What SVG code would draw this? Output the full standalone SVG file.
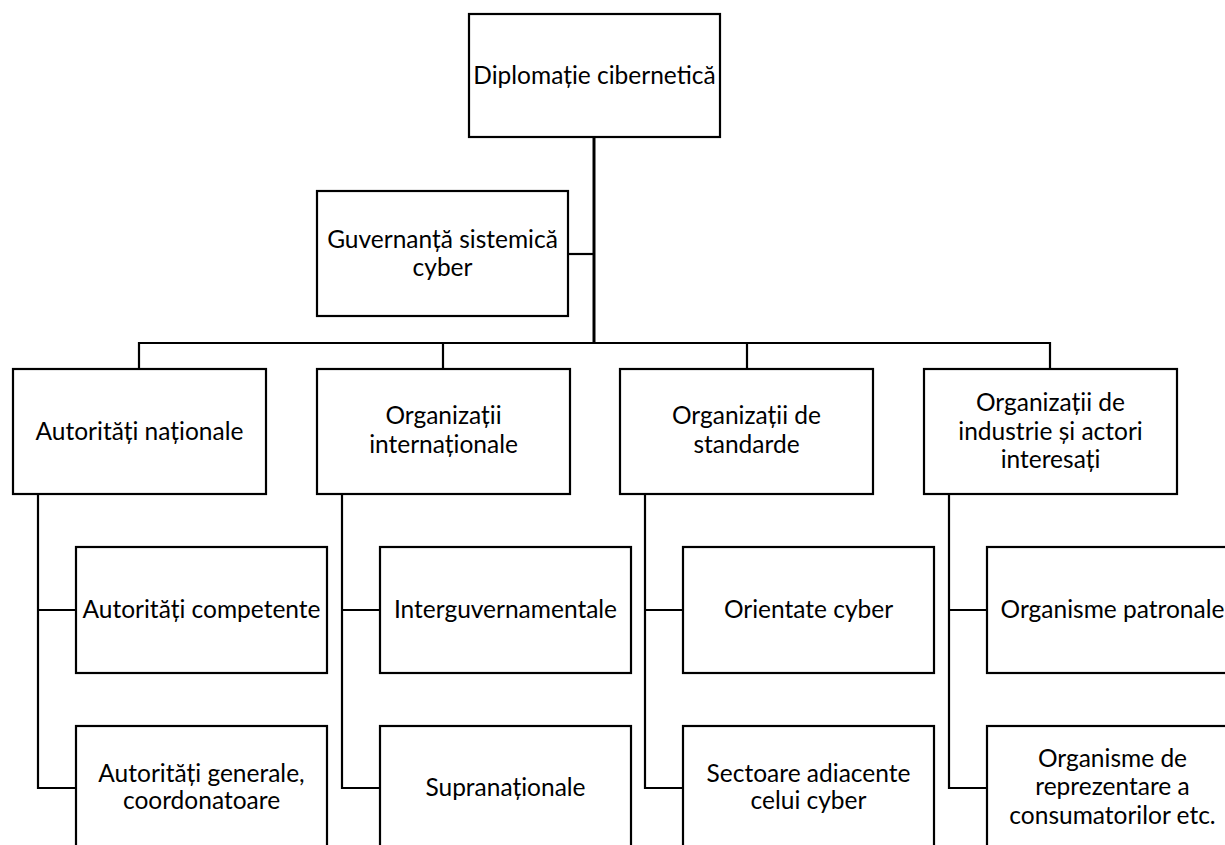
<svg xmlns="http://www.w3.org/2000/svg" width="1225" height="845" viewBox="0 0 1225 845">
<style>
  .box{fill:#fff;stroke:#000;stroke-width:2.2}
  .t{font-family:Lato,"Liberation Sans",sans-serif;font-size:24.5px;fill:#000;text-anchor:middle}
  .c{fill:none;stroke:#000;stroke-width:2.2}
  .trunk{fill:none;stroke:#000;stroke-width:3}
</style>
<rect width="1225" height="845" fill="#fff"/>
<g id="connectors">
  <path class="trunk" d="M594,137 V343"/>
  <path class="c" d="M568,254 H594"/>
  <path class="c" d="M139,343 H1050 M139,342 V369 M443,343 V369 M747,343 V369 M1050,342 V369"/>
  <path class="c" d="M38,494 V788 H76 M38,610 H76"/>
  <path class="c" d="M342,494 V788 H380 M342,610 H380"/>
  <path class="c" d="M645,494 V788 H683 M645,610 H683"/>
  <path class="c" d="M949,494 V788 H987 M949,610 H987"/>
</g>
<g id="n-diplomatie"><rect class="box" x="469" y="14" width="251" height="123"/><text class="t" x="594.5" y="84">Diplomație cibernetică</text></g>
<g id="n-guvernanta"><rect class="box" x="317" y="191" width="251" height="125"/><text class="t" x="442.5" y="248">Guvernanță sistemică</text><text class="t" x="442.5" y="276">cyber</text></g>
<g id="n-autoritati"><rect class="box" x="13" y="369" width="253" height="125"/><text class="t" x="139.5" y="440">Autorități naționale</text></g>
<g id="n-orgint"><rect class="box" x="317" y="369" width="253" height="125"/><text class="t" x="443.5" y="424">Organizații</text><text class="t" x="443.5" y="453">internaționale</text></g>
<g id="n-orgstd"><rect class="box" x="620" y="369" width="253" height="125"/><text class="t" x="746.5" y="424">Organizații de</text><text class="t" x="746.5" y="453">standarde</text></g>
<g id="n-orgind"><rect class="box" x="924" y="369" width="253" height="125"/><text class="t" x="1050.5" y="411">Organizații de</text><text class="t" x="1050.5" y="440">industrie și actori</text><text class="t" x="1050.5" y="468">interesați</text></g>
<g id="n-competente"><rect class="box" x="76" y="547" width="251" height="126"/><text class="t" x="201.5" y="618">Autorități competente</text></g>
<g id="n-generale"><rect class="box" x="76" y="726" width="251" height="126"/><text class="t" x="201.5" y="782">Autorități generale,</text><text class="t" x="201.5" y="809">coordonatoare</text></g>
<g id="n-interguv"><rect class="box" x="380" y="547" width="251" height="126"/><text class="t" x="505.5" y="618">Interguvernamentale</text></g>
<g id="n-supranat"><rect class="box" x="380" y="726" width="251" height="126"/><text class="t" x="505.5" y="796">Supranaționale</text></g>
<g id="n-orientate"><rect class="box" x="683" y="547" width="251" height="126"/><text class="t" x="808.5" y="618">Orientate cyber</text></g>
<g id="n-sectoare"><rect class="box" x="683" y="726" width="251" height="126"/><text class="t" x="808.5" y="782">Sectoare adiacente</text><text class="t" x="808.5" y="809">celui cyber</text></g>
<g id="n-patronale"><rect class="box" x="987" y="547" width="251" height="126"/><text class="t" x="1112.5" y="618">Organisme patronale</text></g>
<g id="n-consumatori"><rect class="box" x="987" y="726" width="251" height="126"/><text class="t" x="1112.5" y="767">Organisme de</text><text class="t" x="1112.5" y="795">reprezentare a</text><text class="t" x="1112.5" y="824">consumatorilor etc.</text></g>
</svg>
